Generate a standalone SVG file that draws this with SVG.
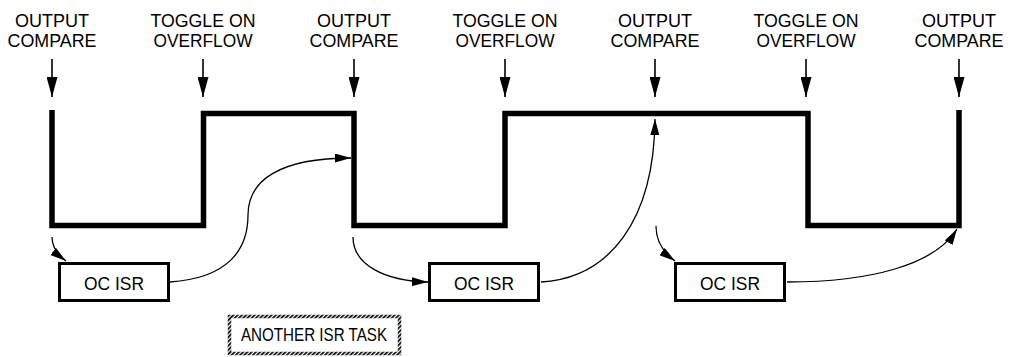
<svg xmlns="http://www.w3.org/2000/svg" width="1016" height="357" viewBox="0 0 1016 357">
<style>
text{font-family:"Liberation Sans",Arial,sans-serif;font-size:18.5px;fill:#000;text-anchor:middle}
.wave{fill:none;stroke:#000;stroke-width:5.5;stroke-linejoin:miter;stroke-linecap:butt}
.lbl{stroke:#000;stroke-width:1.6;fill:none;marker-end:url(#big)}
.cv{stroke:#000;stroke-width:1.3;fill:none;marker-end:url(#small)}
.box{fill:#fff;stroke:#000;stroke-width:3}
.hbox{fill:#fff;stroke:url(#hatch);stroke-width:3.5}
</style>
<defs>
<marker id="big" markerUnits="userSpaceOnUse" markerWidth="20" markerHeight="11" refX="20" refY="5.5" orient="auto"><path d="M0,0 L20,5.5 L0,11 z" fill="#000"/></marker>
<marker id="small" markerUnits="userSpaceOnUse" markerWidth="16" markerHeight="9" refX="16" refY="4.5" orient="auto"><path d="M0,0 L16,4.5 L0,9 z" fill="#000"/></marker>
<pattern id="hatch" patternUnits="userSpaceOnUse" width="3" height="3" patternTransform="rotate(45)"><rect width="3" height="3" fill="#fff"/><rect width="1.7" height="3" fill="#000"/></pattern>
</defs>
<g id="labels">
<g id="lbl1"><text x="52" y="27" textLength="74" lengthAdjust="spacingAndGlyphs">OUTPUT</text><text x="52" y="47" textLength="89" lengthAdjust="spacingAndGlyphs">COMPARE</text></g>
<g id="lbl2"><text x="203" y="27" textLength="105" lengthAdjust="spacingAndGlyphs">TOGGLE ON</text><text x="203" y="47" textLength="99" lengthAdjust="spacingAndGlyphs">OVERFLOW</text></g>
<g id="lbl3"><text x="354" y="27" textLength="74" lengthAdjust="spacingAndGlyphs">OUTPUT</text><text x="354" y="47" textLength="89" lengthAdjust="spacingAndGlyphs">COMPARE</text></g>
<g id="lbl4"><text x="505" y="27" textLength="105" lengthAdjust="spacingAndGlyphs">TOGGLE ON</text><text x="505" y="47" textLength="99" lengthAdjust="spacingAndGlyphs">OVERFLOW</text></g>
<g id="lbl5"><text x="655" y="27" textLength="74" lengthAdjust="spacingAndGlyphs">OUTPUT</text><text x="655" y="47" textLength="89" lengthAdjust="spacingAndGlyphs">COMPARE</text></g>
<g id="lbl6"><text x="806" y="27" textLength="105" lengthAdjust="spacingAndGlyphs">TOGGLE ON</text><text x="806" y="47" textLength="99" lengthAdjust="spacingAndGlyphs">OVERFLOW</text></g>
<g id="lbl7"><text x="959" y="27" textLength="74" lengthAdjust="spacingAndGlyphs">OUTPUT</text><text x="959" y="47" textLength="89" lengthAdjust="spacingAndGlyphs">COMPARE</text></g>
</g>
<g id="waveform">
<path class="wave" d="M52,110 V225.5 H203.5 V113.5 H354 V225.5 H505 V113.5 H808 V225.5 H959 V110"/>
</g>
<g id="isr1"><rect class="box" x="59.5" y="263.5" width="109" height="37"/><text x="114" y="290" textLength="60" lengthAdjust="spacingAndGlyphs">OC ISR</text></g>
<g id="isr2"><rect class="box" x="429.5" y="263.5" width="109" height="37"/><text x="484" y="290" textLength="60" lengthAdjust="spacingAndGlyphs">OC ISR</text></g>
<g id="isr3"><rect class="box" x="675.5" y="263.5" width="109" height="37"/><text x="730" y="290" textLength="60" lengthAdjust="spacingAndGlyphs">OC ISR</text></g>
<g id="another"><rect class="hbox" x="229.5" y="316.5" width="170" height="37"/><text x="314" y="341" textLength="146" lengthAdjust="spacingAndGlyphs">ANOTHER ISR TASK</text></g>
<g id="connectors">
<line class="lbl" x1="52" y1="59" x2="52" y2="97"/>
<line class="lbl" x1="203" y1="59" x2="203" y2="97"/>
<line class="lbl" x1="354" y1="59" x2="354" y2="97"/>
<line class="lbl" x1="505" y1="59" x2="505" y2="97"/>
<line class="lbl" x1="655" y1="59" x2="655" y2="97"/>
<line class="lbl" x1="806" y1="59" x2="806" y2="97"/>
<line class="lbl" x1="959" y1="59" x2="959" y2="97"/>
<path class="cv" d="M52,237 C52,248 58,255 66,261"/>
<path class="cv" d="M170,282 C228,278 248,250 248,215 C248,180 280,158 351,158"/>
<path class="cv" d="M353,237 C353,265 385,281 428,282"/>
<path class="cv" d="M541,282 C610,278 654,220 655,119"/>
<path class="cv" d="M656,226 C656,242 664,253 675,261"/>
<path class="cv" d="M787,282 C870,282 935,265 957,229"/>
</g>
</svg>
